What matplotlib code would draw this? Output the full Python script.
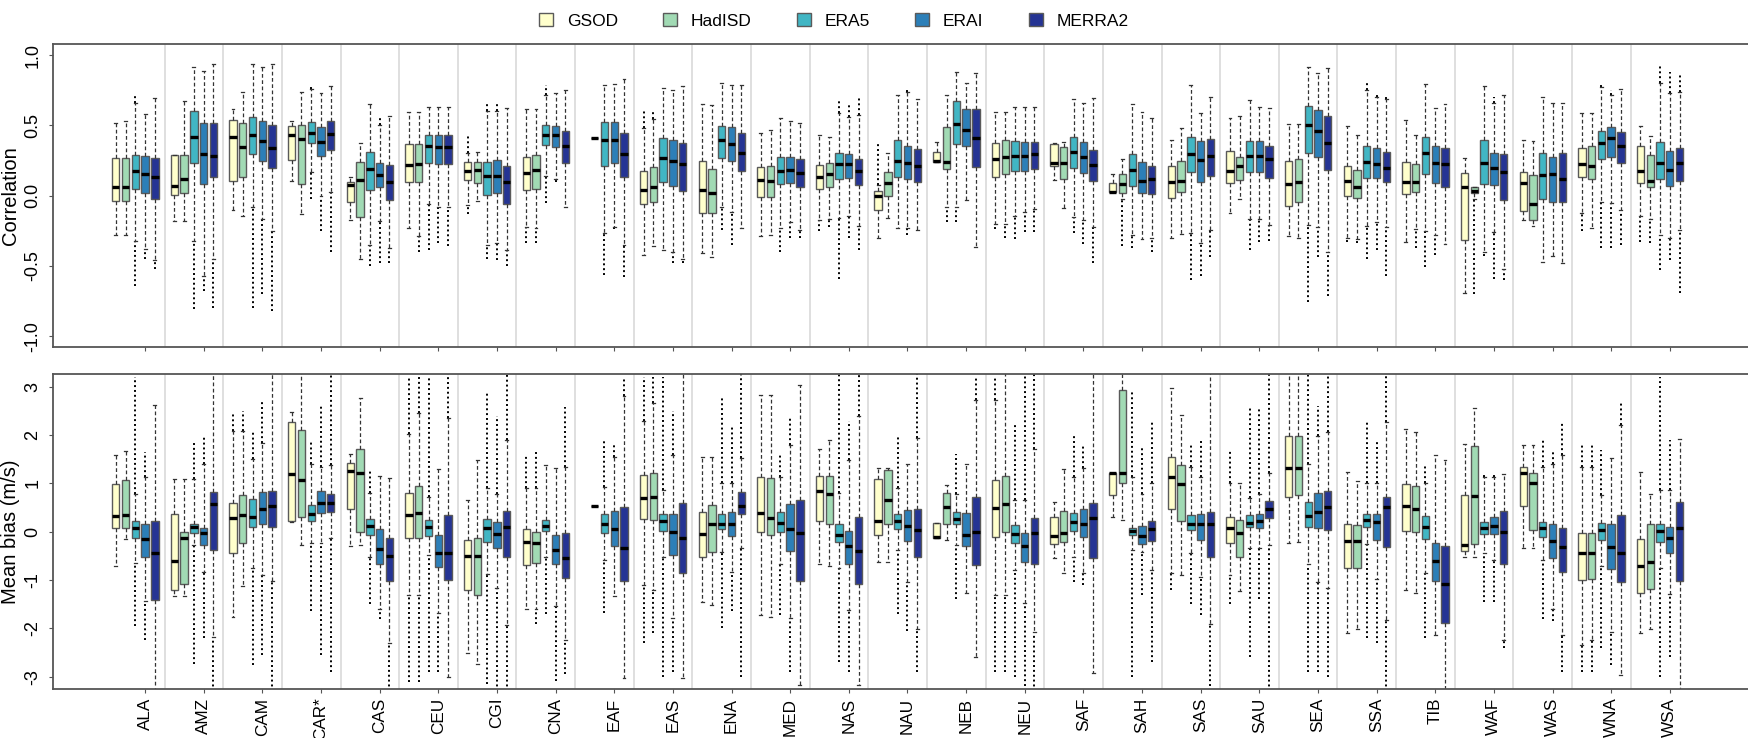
import numpy as np
import matplotlib
matplotlib.use("Agg")
import matplotlib.pyplot as plt
from matplotlib.patches import Patch

plt.rcParams["font.family"] = ["Liberation Sans", "DejaVu Sans"]
plt.rcParams["axes.unicode_minus"] = False

nan = np.nan

regions = ["ALA", "AMZ", "CAM", "CAR*", "CAS", "CEU", "CGI", "CNA", "EAF", "EAS",
           "ENA", "MED", "NAS", "NAU", "NEB", "NEU", "SAF", "SAH", "SAS", "SAU",
           "SEA", "SSA", "TIB", "WAF", "WAS", "WNA", "WSA"]
datasets = ["GSOD", "HadISD", "ERA5", "ERAI", "MERRA2"]
colors = ["#FFFFCC", "#A1DAB4", "#41B6C4", "#2C7FB8", "#253494"]

# ---- correlation (rows = regions, cols = datasets) ----
cor_med = [
    [0.06, 0.06, 0.176, 0.155, 0.13], [0.07, 0.12, 0.42, 0.30, 0.285],
    [0.42, 0.345, 0.43, 0.39, 0.34], [0.43, 0.405, 0.448, 0.385, 0.44],
    [0.075, 0.113, 0.193, 0.146, 0.094], [0.22, 0.226, 0.354, 0.347, 0.35],
    [0.177, 0.184, 0.14, 0.14, 0.094], [0.16, 0.18, 0.43, 0.43, 0.354],
    [nan, 0.41, 0.396, 0.396, 0.30], [0.04, 0.064, 0.27, 0.247, 0.223],
    [0.04, 0.017, 0.396, 0.368, 0.306], [0.112, 0.104, 0.176, 0.183, 0.16],
    [0.13, 0.154, 0.225, 0.223, 0.178], [-0.002, 0.088, 0.25, 0.23, 0.214],
    [0.25, 0.237, 0.51, 0.47, 0.413], [0.259, 0.278, 0.285, 0.285, 0.297],
    [0.23, 0.23, 0.313, 0.273, 0.218], [0.028, 0.08, 0.183, 0.107, 0.116],
    [0.095, 0.104, 0.297, 0.254, 0.282], [0.178, 0.214, 0.285, 0.282, 0.259],
    [0.083, 0.095, 0.503, 0.46, 0.372], [0.104, 0.064, 0.237, 0.223, 0.20],
    [0.10, 0.10, 0.301, 0.23, 0.223], [0.059, 0.036, 0.23, 0.195, 0.171],
    [0.088, -0.059, 0.147, 0.154, 0.116], [0.223, 0.214, 0.377, 0.408, 0.356],
    [0.178, 0.104, 0.23, 0.183, 0.23],
]
cor_q1 = [
    [-0.036, -0.036, 0.045, 0.017, -0.024], [0.005, 0.017, 0.23, 0.083, 0.13],
    [0.106, 0.13, 0.30, 0.25, 0.20], [0.252, 0.083, 0.377, 0.283, 0.323],
    [-0.047, -0.153, 0.04, 0.06, -0.03], [0.10, 0.10, 0.236, 0.224, 0.224],
    [0.11, 0.092, 0.005, 0.019, -0.057], [0.038, 0.047, 0.358, 0.347, 0.23],
    [nan, 0.41, 0.211, 0.23, 0.13], [-0.062, -0.043, 0.10, 0.071, 0.033],
    [-0.121, -0.121, 0.266, 0.247, 0.176], [-0.007, -0.007, 0.08, 0.093, 0.06],
    [0.045, 0.06, 0.116, 0.123, 0.076], [-0.10, -0.002, 0.13, 0.118, 0.095],
    [0.237, 0.187, 0.365, 0.353, 0.206], [0.135, 0.154, 0.178, 0.178, 0.187],
    [0.214, 0.119, 0.195, 0.159, 0.104], [0.024, 0.017, 0.069, 0.017, 0.009],
    [-0.019, 0.024, 0.166, 0.10, 0.142], [0.088, 0.112, 0.166, 0.166, 0.128],
    [-0.074, -0.047, 0.301, 0.278, 0.183], [0.0, -0.019, 0.128, 0.128, 0.095],
    [0.009, 0.024, 0.152, 0.088, 0.064], [-0.316, 0.017, 0.08, 0.076, -0.031],
    [-0.109, -0.173, -0.024, -0.047, -0.047], [0.13, 0.118, 0.261, 0.278, 0.23],
    [0.093, 0.064, 0.116, 0.071, 0.107],
]
cor_q3 = [
    [0.27, 0.267, 0.29, 0.28, 0.27], [0.29, 0.29, 0.60, 0.52, 0.52],
    [0.54, 0.52, 0.56, 0.53, 0.50], [0.495, 0.50, 0.526, 0.488, 0.533],
    [0.10, 0.24, 0.31, 0.23, 0.217], [0.366, 0.366, 0.43, 0.43, 0.43],
    [0.24, 0.24, 0.24, 0.252, 0.212], [0.274, 0.29, 0.50, 0.495, 0.46],
    [nan, 0.41, 0.527, 0.527, 0.448], [0.178, 0.206, 0.408, 0.396, 0.372],
    [0.247, 0.187, 0.496, 0.486, 0.448], [0.206, 0.211, 0.278, 0.278, 0.26],
    [0.218, 0.23, 0.306, 0.297, 0.263], [0.036, 0.166, 0.396, 0.353, 0.332],
    [0.313, 0.49, 0.674, 0.614, 0.617], [0.372, 0.396, 0.391, 0.384, 0.384],
    [0.365, 0.349, 0.42, 0.384, 0.325], [0.093, 0.154, 0.294, 0.242, 0.214],
    [0.214, 0.247, 0.415, 0.391, 0.401], [0.32, 0.278, 0.389, 0.389, 0.356],
    [0.249, 0.261, 0.64, 0.61, 0.57], [0.214, 0.183, 0.356, 0.342, 0.308],
    [0.237, 0.223, 0.415, 0.356, 0.337], [0.164, 0.059, 0.396, 0.301, 0.297],
    [0.171, 0.147, 0.301, 0.273, 0.301], [0.337, 0.356, 0.463, 0.486, 0.456],
    [0.353, 0.29, 0.38, 0.318, 0.342],
]
cor_wlo = [
    [-0.28, -0.28, -0.32, -0.38, -0.455], [-0.18, -0.18, -0.32, -0.57, -0.45],
    [-0.10, -0.146, -0.08, -0.165, -0.255], [0.106, -0.13, 0.165, 0.0, 0.028],
    [-0.17, -0.45, -0.354, -0.18, -0.37], [-0.23, -0.29, -0.06, -0.08, -0.08],
    [-0.066, -0.04, -0.354, -0.34, -0.39], [-0.224, -0.23, 0.137, 0.118, -0.08],
    [nan, 0.41, -0.268, -0.22, -0.35], [-0.42, -0.358, -0.39, -0.40, -0.45],
    [-0.41, -0.44, -0.078, -0.119, -0.232], [-0.29, -0.28, -0.232, -0.185, -0.244],
    [-0.173, -0.166, -0.16, -0.145, -0.216], [-0.30, -0.16, -0.232, -0.228, -0.244],
    [0.237, -0.078, -0.078, -0.03, -0.363], [-0.20, -0.20, -0.145, -0.114, -0.097],
    [0.112, -0.09, -0.149, -0.173, -0.22], [0.024, -0.026, -0.28, -0.31, -0.30],
    [-0.30, -0.275, -0.268, -0.334, -0.244], [-0.126, -0.024, -0.168, -0.168, -0.209],
    [-0.29, -0.30, -0.209, -0.22, -0.40], [-0.30, -0.31, -0.216, -0.19, -0.22],
    [-0.33, -0.24, -0.25, -0.28, -0.344], [-0.695, -0.026, -0.40, -0.256, -0.524],
    [-0.173, -0.213, -0.47, -0.43, -0.477], [-0.126, -0.228, -0.043, -0.055, -0.102],
    [-0.145, -0.168, -0.28, -0.30, -0.244],
]
cor_whi = [
    [0.52, 0.53, 0.66, 0.58, 0.695], [0.29, 0.676, 0.914, 0.886, 0.936],
    [0.62, 0.74, 0.94, 0.915, 0.94], [0.53, 0.736, 0.76, 0.73, 0.78],
    [0.134, 0.372, 0.656, 0.50, 0.566], [0.594, 0.594, 0.632, 0.632, 0.632],
    [0.307, 0.31, 0.60, 0.60, 0.625], [0.62, 0.62, 0.72, 0.73, 0.755],
    [nan, 0.41, 0.788, 0.795, 0.828], [0.48, 0.543, 0.77, 0.752, 0.78],
    [0.65, 0.645, 0.804, 0.788, 0.788], [0.448, 0.467, 0.555, 0.534, 0.515],
    [0.432, 0.42, 0.59, 0.562, 0.574], [0.076, 0.301, 0.72, 0.74, 0.69],
    [0.384, 0.72, 0.882, 0.804, 0.875], [0.593, 0.593, 0.633, 0.633, 0.633],
    [0.372, 0.384, 0.686, 0.662, 0.693], [0.154, 0.259, 0.65, 0.598, 0.55],
    [0.396, 0.484, 0.788, 0.586, 0.705], [0.55, 0.567, 0.68, 0.629, 0.622],
    [0.51, 0.51, 0.918, 0.87, 0.906], [0.498, 0.432, 0.752, 0.70, 0.69],
    [0.539, 0.432, 0.792, 0.626, 0.652], [0.27, 0.059, 0.783, 0.66, 0.72],
    [0.396, 0.389, 0.705, 0.657, 0.657], [0.586, 0.586, 0.776, 0.716, 0.757],
    [0.496, 0.425, 0.80, 0.728, 0.74],
]
# lowest / highest outlier per box (nan = none)
cor_out_lo = [
    [nan, nan, -0.64, -0.45, -0.52], [nan, nan, -0.81, -0.68, -0.80],
    [nan, nan, -0.80, -0.70, -0.82], [nan, nan, -0.024, -0.25, -0.40],
    [nan, nan, -0.50, -0.48, -0.48], [nan, -0.40, -0.39, -0.34, -0.36],
    [-0.13, nan, -0.45, -0.46, -0.50], [-0.34, -0.34, -0.05, 0.10, nan],
    [nan, nan, -0.565, -0.24, -0.58], [nan, nan, nan, -0.48, -0.48],
    [nan, nan, -0.244, -0.35, nan], [nan, nan, -0.40, -0.30, -0.30],
    [-0.25, -0.22, -0.595, -0.30, -0.39], [nan, nan, nan, -0.28, nan],
    [nan, -0.19, -0.19, nan, nan], [-0.24, -0.30, -0.31, -0.26, -0.26],
    [nan, nan, -0.268, -0.346, -0.477], [nan, -0.358, -0.375, nan, -0.40],
    [nan, nan, -0.60, -0.57, -0.44], [nan, nan, -0.39, -0.327, -0.32],
    [nan, nan, -0.754, -0.434, -0.714], [-0.33, -0.34, -0.453, -0.387, -0.57],
    [nan, -0.37, -0.51, -0.42, nan], [nan, -0.70, -0.43, -0.595, -0.60],
    [nan, nan, nan, nan, nan], [-0.25, nan, -0.375, -0.375, -0.35],
    [-0.33, -0.34, -0.53, -0.46, -0.69],
]
cor_out_hi = [
    [nan, nan, 0.72, nan, nan], [nan, nan, nan, nan, nan],
    [nan, nan, nan, nan, nan], [nan, nan, 0.79, nan, nan],
    [nan, nan, nan, 0.57, nan], [nan, nan, nan, nan, nan],
    [0.44, nan, 0.67, 0.67, nan], [nan, nan, 0.79, nan, nan],
    [nan, nan, nan, nan, nan], [0.60, 0.60, nan, nan, nan],
    [nan, nan, nan, nan, nan], [nan, nan, nan, nan, nan],
    [nan, nan, 0.69, 0.66, 0.70], [0.365, nan, nan, 0.75, nan],
    [nan, nan, nan, nan, nan], [nan, nan, nan, nan, nan],
    [nan, nan, nan, nan, nan], [nan, nan, nan, nan, nan],
    [nan, nan, nan, nan, nan], [nan, nan, nan, nan, nan],
    [nan, nan, nan, nan, nan], [nan, nan, 0.80, 0.72, 0.72],
    [nan, nan, nan, nan, nan], [nan, nan, nan, 0.70, nan],
    [nan, nan, nan, nan, nan], [nan, nan, 0.80, 0.75, nan],
    [nan, nan, 0.92, 0.88, 0.87],
]

# ---- mean bias (m/s); +-3.5 = beyond the plotted range ----
bias_med = [
    [0.33, 0.34, 0.07, -0.15, -0.45], [-0.60, -0.14, 0.09, -0.03, 0.57],
    [0.28, 0.34, 0.30, 0.47, 0.54], [1.19, 1.06, 0.37, 0.60, 0.60],
    [1.26, 1.21, 0.12, -0.35, -0.50], [0.34, 0.39, 0.10, -0.43, -0.45],
    [-0.50, -0.50, 0.07, -0.05, 0.10], [-0.21, -0.24, 0.12, -0.38, -0.54],
    [nan, 0.54, 0.17, 0.05, -0.34], [0.70, 0.72, 0.22, -0.01, -0.12],
    [-0.05, 0.15, 0.17, 0.17, 0.53], [0.39, 0.29, 0.19, 0.05, -0.03],
    [0.84, 0.79, -0.06, -0.30, -0.39], [0.22, 0.66, 0.23, 0.12, 0.03],
    [-0.10, 0.52, 0.26, -0.06, -0.01], [0.50, 0.57, -0.05, -0.30, -0.03],
    [-0.09, -0.03, 0.21, 0.16, 0.29], [1.21, 1.22, 0.01, -0.08, 0.06],
    [1.14, 0.99, 0.17, 0.16, 0.16], [0.08, -0.03, 0.19, 0.23, 0.47],
    [1.32, 1.32, 0.33, 0.41, 0.52], [-0.19, -0.19, 0.24, 0.21, 0.52],
    [0.53, 0.48, 0.09, -0.61, -1.08], [-0.28, 0.74, 0.08, 0.12, 0.00],
    [1.21, 1.01, 0.07, -0.19, -0.32], [-0.43, -0.43, 0.03, -0.32, -0.43],
    [-0.71, -0.62, 0.02, -0.12, 0.07],
]
bias_q1 = [
    [0.07, 0.08, -0.12, -0.52, -1.41], [-1.20, -1.09, -0.02, -0.28, -0.38],
    [-0.45, -0.23, 0.09, 0.15, 0.10], [0.23, 0.30, 0.23, 0.39, 0.41],
    [0.46, 0.00, -0.06, -0.67, -1.01], [-0.14, -0.12, -0.08, -0.72, -1.00],
    [-1.21, -1.30, -0.21, -0.34, -0.52], [-0.68, -0.64, 0.02, -0.66, -0.95],
    [nan, 0.54, -0.02, -0.29, -1.02], [0.26, 0.24, 0.02, -0.48, -0.86],
    [-0.52, -0.41, 0.06, -0.09, 0.37], [0.00, -0.06, -0.01, -0.40, -1.02],
    [0.23, 0.17, -0.21, -0.66, -1.08], [-0.07, 0.15, 0.05, -0.19, -0.53],
    [-0.14, 0.16, 0.15, -0.30, -0.69], [-0.10, 0.00, -0.23, -0.62, -0.66],
    [-0.26, -0.21, 0.01, -0.10, -0.55], [0.76, 1.00, -0.07, -0.26, -0.19],
    [0.46, 0.22, 0.03, -0.17, -0.52], [-0.24, -0.52, 0.10, 0.07, 0.28],
    [0.72, 0.76, 0.10, 0.07, 0.03], [-0.76, -0.76, 0.10, -0.17, -0.31],
    [0.01, 0.00, -0.15, -1.01, -1.88], [-0.40, -0.26, -0.05, -0.05, -0.66],
    [0.53, 0.03, -0.10, -0.55, -0.83], [-0.99, -0.97, -0.17, -0.77, -1.03],
    [-1.26, -1.19, -0.21, -0.43, -1.02],
]
bias_q3 = [
    [0.98, 1.08, 0.23, 0.17, 0.22], [0.36, 0.00, 0.16, 0.07, 0.83],
    [0.59, 0.77, 0.68, 0.83, 0.85], [2.28, 2.10, 0.55, 0.85, 0.79],
    [1.43, 1.71, 0.26, 0.05, -0.12], [0.81, 0.95, 0.24, -0.06, 0.34],
    [-0.17, -0.14, 0.26, 0.21, 0.43], [0.06, 0.00, 0.24, -0.07, -0.03],
    [nan, 0.54, 0.37, 0.43, 0.52], [1.17, 1.21, 0.37, 0.36, 0.60],
    [0.40, 0.55, 0.37, 0.40, 0.83], [1.14, 1.12, 0.41, 0.57, 0.66],
    [1.15, 1.15, 0.17, 0.01, 0.31], [1.09, 1.28, 0.36, 0.45, 0.47],
    [0.19, 0.81, 0.41, 0.39, 0.71], [1.06, 1.15, 0.14, -0.03, 0.29],
    [0.31, 0.43, 0.38, 0.47, 0.60], [1.22, 2.93, 0.07, 0.12, 0.22],
    [1.55, 1.38, 0.34, 0.37, 0.41], [0.30, 0.24, 0.34, 0.36, 0.63],
    [1.97, 1.97, 0.62, 0.81, 0.85], [0.16, 0.14, 0.37, 0.37, 0.72],
    [0.99, 0.95, 0.32, -0.23, -0.29], [0.76, 1.78, 0.21, 0.31, 0.43],
    [1.33, 1.21, 0.21, 0.16, 0.07], [-0.03, -0.03, 0.19, 0.16, 0.34],
    [-0.15, 0.17, 0.17, 0.10, 0.62],
]
bias_wlo = [
    [-0.71, -0.16, -0.65, -1.43, -3.5], [-1.32, -1.32, -0.28, -0.83, -2.17],
    [-1.76, -1.12, -0.76, -0.90, -1.01], [0.21, -0.28, -0.24, -0.24, -0.14],
    [-0.29, -0.28, -0.52, -1.59, -2.31], [-1.31, -1.31, -0.48, -1.69, -3.00],
    [-2.50, -2.74, -0.88, -1.17, -1.93], [-1.59, -1.59, -0.52, -1.54, -2.23],
    [nan, 0.54, -0.59, -1.33, -3.03], [-1.10, -1.21, -0.52, -1.79, -3.03],
    [-1.46, -1.52, -0.41, -0.83, -0.34], [-1.72, -1.76, -0.66, -1.79, -3.17],
    [-0.67, -0.71, -0.76, -1.62, -3.17], [-0.62, -0.62, -0.38, -1.03, -2.02],
    [-0.14, -0.17, -0.28, -1.26, -2.59], [-1.31, -1.31, -0.79, -1.48, -2.07],
    [-0.55, -0.86, -0.52, -0.86, -2.93], [0.31, 0.24, -0.38, -0.41, -0.79],
    [-0.86, -0.90, -0.43, -0.93, -1.90], [-0.90, -1.23, -0.34, -0.34, -0.28],
    [-0.24, -0.21, -0.66, -1.03, -1.17], [-2.10, -2.02, -0.26, -0.97, -1.83],
    [-1.21, -1.26, -0.86, -2.14, -3.5], [-0.52, -0.52, -0.45, -0.59, -2.24],
    [-0.33, -0.33, -0.59, -1.59, -2.14], [-2.34, -2.24, -0.70, -2.07, -2.97],
    [-2.10, -2.02, -0.76, -1.28, -3.5],
]
bias_whi = [
    [1.59, 1.68, 0.78, 1.14, 2.63], [1.10, 1.10, 1.10, 1.40, 3.5],
    [2.08, 2.09, 1.50, 1.83, 3.5], [2.48, 3.5, 1.41, 1.34, 1.39],
    [1.60, 2.76, 0.80, 1.16, 1.12], [2.03, 2.45, 0.72, 1.30, 2.35],
    [0.66, 1.48, 0.91, 0.79, 1.90], [0.90, 0.90, 1.38, 1.32, 1.34],
    [nan, 0.54, 0.93, 1.55, 2.81], [2.30, 2.66, 0.86, 1.59, 3.5],
    [1.55, 1.55, 1.00, 1.00, 1.52], [2.83, 2.83, 1.14, 1.79, 3.03],
    [1.72, 1.90, 0.80, 1.48, 2.39], [1.31, 1.31, 0.90, 1.40, 1.93],
    [0.19, 0.97, 0.79, 1.40, 2.72], [2.72, 3.5, 0.66, 0.66, 1.72],
    [0.62, 1.29, 1.14, 1.31, 3.5], [1.22, 3.5, 1.14, 0.79, 1.00],
    [2.97, 2.41, 1.34, 1.14, 3.5], [1.00, 1.00, 0.69, 0.79, 1.21],
    [3.5, 3.5, 1.41, 1.97, 2.07], [1.24, 1.05, 1.00, 1.00, 2.28],
    [2.12, 2.07, 1.00, 1.59, 1.48], [1.81, 2.55, 1.14, 1.14, 1.19],
    [1.79, 1.79, 1.34, 1.41, 1.59], [1.34, 1.34, 0.76, 1.52, 2.21],
    [1.24, 0.79, 0.86, 0.86, 1.92],
]
bias_out_lo = [
    [nan, nan, -1.95, -2.25, nan], [nan, nan, -2.73, -2.20, -3.5],
    [nan, nan, -2.75, -2.55, -3.5], [nan, nan, -1.65, -2.55, -2.90],
    [nan, nan, -1.50, -1.80, -3.5], [-3.10, -3.10, -2.90, -2.90, nan],
    [nan, nan, -3.15, -3.5, -3.5], [nan, -1.90, -1.70, -3.08, -2.95],
    [nan, nan, -1.68, nan, nan], [-2.30, -2.10, -3.00, -2.90, nan],
    [nan, nan, -2.00, -1.65, -3.00], [nan, nan, -1.72, -2.90, nan],
    [nan, nan, -2.70, -2.90, nan], [nan, nan, -1.70, -2.05, -2.90],
    [nan, nan, -1.40, nan, nan], [-2.90, -2.90, -3.00, -3.20, -3.5],
    [nan, nan, -1.05, -1.10, nan], [nan, nan, -3.00, -1.30, -2.70],
    [-1.21, nan, -1.50, -1.72, -3.20], [-1.50, nan, -2.60, -1.40, -3.5],
    [nan, nan, -2.90, -2.90, -3.00], [nan, nan, -2.20, -2.30, -3.5],
    [nan, nan, -2.20, nan, nan], [nan, nan, -1.45, -1.45, -2.40],
    [nan, nan, -1.80, -1.85, -2.90], [-2.90, -2.90, -2.40, -2.75, nan],
    [nan, nan, -3.00, -2.60, nan],
]
bias_out_hi = [
    [nan, nan, 3.20, 1.65, nan], [nan, nan, 1.85, 2.00, nan],
    [2.48, 2.50, 2.09, 2.68, nan], [nan, nan, 1.90, 2.60, 3.5],
    [nan, nan, 1.28, nan, nan], [3.20, 3.20, 3.20, 1.30, 3.5],
    [nan, nan, 2.90, 2.40, 3.5], [1.59, 1.68, nan, nan, 2.57],
    [nan, nan, 1.90, 1.80, 3.20], [3.20, 3.20, 3.20, 2.50, nan],
    [nan, nan, 2.80, 2.20, 3.5], [nan, nan, 1.60, 2.35, nan],
    [nan, nan, 3.5, 2.30, 3.5], [nan, nan, 2.00, nan, 3.5],
    [nan, nan, 1.60, nan, 3.20], [3.20, nan, 2.20, 3.5, 3.5],
    [nan, nan, 2.00, 1.80, nan], [nan, nan, 2.90, 1.75, 2.30],
    [nan, nan, 1.80, 1.90, nan], [1.70, nan, 2.60, 2.55, 3.5],
    [nan, nan, 3.5, 2.60, 3.5], [nan, nan, 2.30, 1.90, 3.5],
    [nan, nan, 1.35, nan, nan], [nan, nan, 1.20, 1.20, nan],
    [nan, nan, 1.90, 1.70, 2.30], [1.80, 1.80, 1.70, nan, 2.70],
    [nan, nan, 3.20, 1.90, nan],
]

W, H = 1748, 738
fig = plt.figure(figsize=(W / 100, H / 100), dpi=100)
ax1 = fig.add_axes([52.7 / W, 1 - 347.3 / H, 1 - 52.7 / W, 303.3 / H])
ax2 = fig.add_axes([52.7 / W, 1 - 689.3 / H, 1 - 52.7 / W, 315.3 / H])

n_reg = len(regions)
tick_pos = [g * 6 + 4 for g in range(n_reg)]


def draw_panel(ax, med, q1, q3, wlo, whi, olo, ohi):
    med, q1, q3 = np.array(med), np.array(q1), np.array(q3)
    wlo, whi, olo, ohi = np.array(wlo), np.array(whi), np.array(olo), np.array(ohi)
    for g in range(n_reg - 1):
        ax.axvline(g * 6 + 6, color="#d9d9d9", lw=1.2, zorder=0)
    for k in range(len(datasets)):
        stats, pos = [], []
        for g in range(n_reg):
            if np.isnan(med[g, k]):
                continue
            x = g * 6 + k + 1
            stats.append(dict(med=med[g, k], q1=q1[g, k], q3=q3[g, k],
                              whislo=wlo[g, k], whishi=whi[g, k], fliers=[]))
            pos.append(x)
            # stacked outliers, drawn as a column of small dots
            if not np.isnan(olo[g, k]):
                ax.vlines(x, olo[g, k], wlo[g, k], color="black",
                          lw=1.4, linestyles=(0, (1, 1.5)), zorder=1)
            if not np.isnan(ohi[g, k]):
                ax.vlines(x, whi[g, k], ohi[g, k], color="black",
                          lw=1.4, linestyles=(0, (1, 1.5)), zorder=1)
        ax.bxp(stats, positions=pos, widths=0.75, patch_artist=True,
               showfliers=False, manage_ticks=False, capwidths=0.3,
               boxprops=dict(facecolor=colors[k], edgecolor="#5a5a5a", linewidth=1.0),
               medianprops=dict(color="black", linewidth=2.4, solid_capstyle="butt"),
               whiskerprops=dict(color="#333333", linewidth=0.9, linestyle=(0, (3, 2))),
               capprops=dict(color="#333333", linewidth=0.9))
    ax.set_xlim(-5.45, 168.0)
    ax.spines["right"].set_visible(False)
    for s in ["left", "top", "bottom"]:
        ax.spines[s].set_color("#555555")
        ax.spines[s].set_linewidth(1.3)
    ax.set_xticks(tick_pos)
    ax.tick_params(axis="both", length=3, color="#555555", labelsize=13)
    ax.tick_params(axis="y", pad=5)


draw_panel(ax1, cor_med, cor_q1, cor_q3, cor_wlo, cor_whi, cor_out_lo, cor_out_hi)
ax1.set_ylim(-1.08, 1.08)
ax1.set_yticks([-1, -0.5, 0, 0.5, 1])
ax1.set_yticklabels(["-1.0", "-0.5", "0.0", "0.5", "1.0"], rotation=90, va="center")
ax1.set_xticklabels([])
ax1.set_ylabel("Correlation", fontsize=14.5, labelpad=3)

draw_panel(ax2, bias_med, bias_q1, bias_q3, bias_wlo, bias_whi, bias_out_lo, bias_out_hi)
ax2.set_ylim(-3.26, 3.263)
ax2.set_yticks([-3, -2, -1, 0, 1, 2, 3])
ax2.set_yticklabels(["-3", "-2", "-1", "0", "1", "2", "3"], rotation=90, va="center")
ax2.set_xticklabels(regions, rotation=90, fontsize=12.3)
ax2.tick_params(axis="x", pad=3)
ax2.set_ylabel("Mean bias (m/s)", fontsize=14.5, labelpad=3)

handles = [Patch(facecolor=c, edgecolor="#5a5a5a", linewidth=1.0) for c in colors]
fig.legend(handles, datasets, loc="center", bbox_to_anchor=(0.477, 0.972), ncol=5,
           frameon=False, fontsize=12.5, handlelength=0.8, handleheight=0.8,
           handletextpad=0.8, columnspacing=2.6)

fig.savefig("out.png", dpi=100)
